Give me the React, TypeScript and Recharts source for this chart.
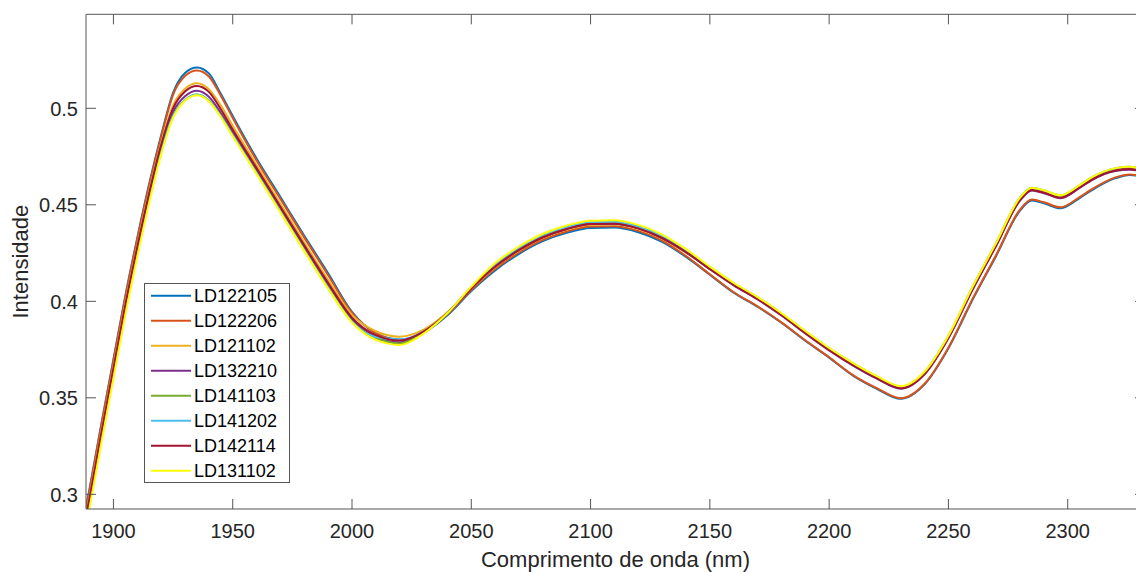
import { LineChart, Line, XAxis, YAxis, Legend } from 'recharts';

// wavelength grid (nm)
const wavelengths = [
  1886, 1890, 1895, 1900, 1905, 1910, 1915, 1920, 1925, 1930, 1935, 1940, 1945, 1950,
  1960, 1970, 1980, 1990, 2000, 2010, 2020, 2030, 2040, 2050, 2060, 2070, 2080, 2090,
  2100, 2110, 2120, 2130, 2140, 2150, 2160, 2170, 2180, 2190, 2200, 2210, 2220, 2230,
  2240, 2250, 2260, 2270, 2280, 2285, 2290, 2297, 2305, 2310, 2320, 2326, 2334,
];

const ld122105 = [
  0.277, 0.303, 0.337, 0.370, 0.403, 0.433, 0.461, 0.486, 0.508, 0.5183, 0.5212, 0.5181, 0.5075, 0.496,
  0.474, 0.454, 0.434, 0.4145, 0.3945, 0.3835, 0.3802, 0.3838, 0.3928, 0.4053, 0.416, 0.4246, 0.4312, 0.4355,
  0.4380, 0.4382, 0.4358, 0.4308, 0.4230, 0.4138, 0.4045, 0.3972, 0.3889, 0.3796, 0.3708, 0.3615, 0.3547, 0.3495,
  0.3570, 0.3757, 0.4005, 0.4235, 0.4470, 0.4522, 0.4508, 0.4482, 0.4535, 0.4575, 0.4638, 0.4655, 0.4635,
];
const ld122206 = [
  0.276, 0.302, 0.336, 0.369, 0.402, 0.432, 0.460, 0.485, 0.507, 0.5167, 0.5196, 0.5165, 0.5065, 0.495,
  0.473, 0.453, 0.433, 0.4135, 0.394, 0.3835, 0.3797, 0.3838, 0.3933, 0.4058, 0.4167, 0.4253, 0.4319, 0.4362,
  0.4387, 0.4389, 0.4365, 0.4315, 0.4235, 0.4140, 0.4047, 0.3974, 0.3891, 0.3798, 0.3710, 0.3618, 0.3550, 0.3498,
  0.3573, 0.3760, 0.4010, 0.4240, 0.4475, 0.4527, 0.4513, 0.4487, 0.4540, 0.4580, 0.4642, 0.4657, 0.4637,
];
const ld121102 = [
  0.273, 0.299, 0.333, 0.366, 0.399, 0.429, 0.457, 0.482, 0.5015, 0.5101, 0.5130, 0.5099, 0.5015, 0.491,
  0.4705, 0.4505, 0.4305, 0.411, 0.393, 0.3845, 0.3817, 0.3853, 0.3943, 0.4068, 0.4177, 0.4263, 0.4329, 0.4372,
  0.4397, 0.4399, 0.4375, 0.4325, 0.4252, 0.4168, 0.4085, 0.4012, 0.3929, 0.3836, 0.3748, 0.3670, 0.3602, 0.3550,
  0.3625, 0.3812, 0.4060, 0.4290, 0.4525, 0.4577, 0.4563, 0.4537, 0.4590, 0.4630, 0.4678, 0.4685, 0.4665,
];
const ld132210 = [
  0.271, 0.297, 0.331, 0.364, 0.397, 0.427, 0.455, 0.480, 0.498, 0.5062, 0.5091, 0.5060, 0.4975, 0.4875,
  0.468, 0.448, 0.428, 0.4085, 0.3905, 0.3815, 0.3787, 0.3838, 0.3938, 0.4068, 0.418, 0.4266, 0.4332, 0.4375,
  0.4400, 0.4402, 0.4378, 0.4328, 0.4255, 0.4166, 0.4083, 0.4010, 0.3927, 0.3834, 0.3746, 0.3667, 0.3599, 0.3547,
  0.3622, 0.3809, 0.4057, 0.4287, 0.4522, 0.4574, 0.4560, 0.4534, 0.4587, 0.4627, 0.4675, 0.4682, 0.4662,
];
const ld141103 = [
  0.269, 0.295, 0.329, 0.362, 0.395, 0.425, 0.453, 0.478, 0.496, 0.5042, 0.5071, 0.5040, 0.4960, 0.486,
  0.4665, 0.4465, 0.4265, 0.407, 0.3895, 0.381, 0.3782, 0.3838, 0.3938, 0.4073, 0.419, 0.4276, 0.4342, 0.4385,
  0.4410, 0.4412, 0.4388, 0.4338, 0.4265, 0.4176, 0.4093, 0.4020, 0.3937, 0.3844, 0.3756, 0.3678, 0.3610, 0.3558,
  0.3633, 0.3820, 0.4070, 0.4300, 0.4535, 0.4587, 0.4573, 0.4547, 0.4600, 0.4640, 0.4688, 0.4695, 0.4675,
];
const ld141202 = [
  0.269, 0.295, 0.329, 0.362, 0.395, 0.425, 0.453, 0.478, 0.496, 0.5042, 0.5071, 0.5040, 0.4960, 0.486,
  0.4665, 0.4465, 0.4265, 0.407, 0.3895, 0.3815, 0.3802, 0.3843, 0.3938, 0.4073, 0.419, 0.4276, 0.4342, 0.4385,
  0.4410, 0.4412, 0.4388, 0.4338, 0.4265, 0.4176, 0.4093, 0.4020, 0.3937, 0.3844, 0.3756, 0.3678, 0.3610, 0.3558,
  0.3633, 0.3820, 0.4072, 0.4302, 0.4537, 0.4589, 0.4575, 0.4549, 0.4602, 0.4642, 0.4690, 0.4697, 0.4677,
];
const ld142114 = [
  0.272, 0.298, 0.332, 0.365, 0.398, 0.428, 0.456, 0.481, 0.500, 0.5087, 0.5116, 0.5085, 0.4995, 0.489,
  0.469, 0.449, 0.429, 0.4095, 0.3915, 0.3825, 0.3797, 0.3843, 0.3938, 0.4068, 0.418, 0.4266, 0.4332, 0.4375,
  0.4400, 0.4402, 0.4378, 0.4328, 0.4255, 0.4168, 0.4085, 0.4012, 0.3929, 0.3836, 0.3748, 0.3670, 0.3602, 0.3550,
  0.3625, 0.3812, 0.4060, 0.4290, 0.4525, 0.4577, 0.4563, 0.4537, 0.4590, 0.4630, 0.4678, 0.4685, 0.4665,
];
const ld131102 = [
  0.267, 0.293, 0.327, 0.360, 0.393, 0.423, 0.451, 0.476, 0.495, 0.5039, 0.5068, 0.5037, 0.4955, 0.4855,
  0.466, 0.446, 0.426, 0.4065, 0.389, 0.380, 0.3774, 0.3833, 0.3938, 0.4076, 0.4198, 0.4284, 0.4350, 0.4393,
  0.4418, 0.4420, 0.4396, 0.4346, 0.4270, 0.4180, 0.4095, 0.4022, 0.3939, 0.3846, 0.3758, 0.3680, 0.3612, 0.3560,
  0.3635, 0.3822, 0.4072, 0.4302, 0.4537, 0.4589, 0.4575, 0.4549, 0.4602, 0.4642, 0.4690, 0.4697, 0.4677,
];

const series = [
  { name: 'LD122105', values: ld122105, color: '#0072BD' },
  { name: 'LD122206', values: ld122206, color: '#D95319' },
  { name: 'LD121102', values: ld121102, color: '#EDB120' },
  { name: 'LD132210', values: ld132210, color: '#7E2F8E' },
  { name: 'LD141103', values: ld141103, color: '#77AC30' },
  { name: 'LD141202', values: ld141202, color: '#4DBEEE' },
  { name: 'LD142114', values: ld142114, color: '#A2142F' },
  { name: 'LD131102', values: ld131102, color: '#FFFF00' },
];
const seriesOrder = series.map(s => s.name);

const xTicks = [1900, 1950, 2000, 2050, 2100, 2150, 2200, 2250, 2300];
const yTicks = [0.3, 0.35, 0.4, 0.45, 0.5];
const xDomain = [1888.5, 2332.4];
const yDomain = [0.2924, 0.5487];

const data = wavelengths.map((w, i) => {
  const row: Record<string, number> = { nm: w };
  series.forEach(s => { row[s.name] = s.values[i]; });
  return row;
});

const TEXT = '#262626';
const AXIS = '#555555';
const TICK_LEN = 10;

const BottomTick = ({ x, y, payload }: any) => (
  <g>
    <line x1={x} y1={y} x2={x} y2={y - TICK_LEN} stroke={AXIS} />
    <text x={x} y={y + 29} textAnchor="middle" fill={TEXT} fontSize={20}>{payload.value}</text>
  </g>
);

const TopTick = ({ x, y }: any) => (
  <line x1={x} y1={y} x2={x} y2={y + TICK_LEN} stroke={AXIS} />
);

const LeftTick = ({ x, y, payload }: any) => (
  <g>
    <line x1={x} y1={y} x2={x + TICK_LEN} y2={y} stroke={AXIS} />
    <text x={x - 8} y={y + 7.5} textAnchor="end" fill={TEXT} fontSize={20}>{payload.value}</text>
  </g>
);

const RightTick = ({ x, y }: any) => (
  <line x1={x} y1={y} x2={x - TICK_LEN} y2={y} stroke={AXIS} />
);

const renderLegend = ({ payload }: any) => {
  const items = [...(payload || [])].sort(
    (a: any, b: any) => seriesOrder.indexOf(a.value) - seriesOrder.indexOf(b.value),
  );
  return (
    <svg width={146} height={201} style={{ display: 'block' }}>
      <rect x={0.5} y={0.5} width={145} height={199} fill="#fff" stroke={AXIS} />
      {items.map((p: any, i: number) => (
        <g key={p.value}>
          <line x1={7} x2={47} y1={12.7 + i * 25} y2={12.7 + i * 25} stroke={p.color} strokeWidth={2} />
          <text x={50} y={12.7 + i * 25 + 6.5} fontSize={18} fill="#000">{p.value}</text>
        </g>
      ))}
    </svg>
  );
};

export default function App() {
  return (
    <div style={{ position: 'fixed', left: 0, top: 0, width: 1136, height: 572, overflow: 'hidden', background: '#fff', fontFamily: '"Liberation Sans", Arial, sans-serif' }}>
      <LineChart width={1160} height={572} data={data} margin={{ top: 4.3, right: 5, bottom: 23, left: 26 }}>
        <XAxis
          dataKey="nm"
          type="number"
          domain={xDomain}
          allowDataOverflow
          ticks={xTicks}
          height={40}
          tickSize={0}
          tickMargin={0}
          tickLine={false}
          axisLine={{ stroke: AXIS }}
          tick={<BottomTick />}
          label={{
            content: ({ viewBox }: any) => (
              <text x={viewBox.x + viewBox.width / 2} y={567} textAnchor="middle" fill={TEXT} fontSize={22}>
                Comprimento de onda (nm)
              </text>
            ),
          }}
        />
        <XAxis
          xAxisId="top"
          orientation="top"
          dataKey="nm"
          type="number"
          domain={xDomain}
          allowDataOverflow
          ticks={xTicks}
          height={10}
          tickSize={0}
          tickMargin={0}
          tickLine={false}
          axisLine={{ stroke: AXIS }}
          tick={<TopTick />}
        />
        <YAxis
          type="number"
          domain={yDomain}
          allowDataOverflow
          ticks={yTicks}
          width={60}
          tickSize={0}
          tickMargin={0}
          tickLine={false}
          axisLine={{ stroke: AXIS }}
          tick={<LeftTick />}
          label={{
            content: ({ viewBox }: any) => {
              const cy = viewBox.y + viewBox.height / 2;
              return (
                <text x={28} y={cy} transform={`rotate(-90, 28, ${cy})`} textAnchor="middle" fill={TEXT} fontSize={22}>
                  Intensidade
                </text>
              );
            },
          }}
        />
        <YAxis
          yAxisId="right"
          orientation="right"
          type="number"
          domain={yDomain}
          allowDataOverflow
          ticks={yTicks}
          width={10}
          tickSize={0}
          tickMargin={0}
          tickLine={false}
          axisLine={{ stroke: AXIS }}
          tick={<RightTick />}
        />
        {series.map(s => (
          <Line
            key={s.name}
            type="monotone"
            dataKey={s.name}
            name={s.name}
            stroke={s.color}
            strokeWidth={2}
            dot={false}
            activeDot={false}
            isAnimationActive={false}
          />
        ))}
        <Legend
          layout="vertical"
          align="center"
          verticalAlign="middle"
          wrapperStyle={{ left: 144, top: 283, right: 'auto', bottom: 'auto', width: 146, height: 201 }}
          content={renderLegend}
        />
      </LineChart>
    </div>
  );
}
